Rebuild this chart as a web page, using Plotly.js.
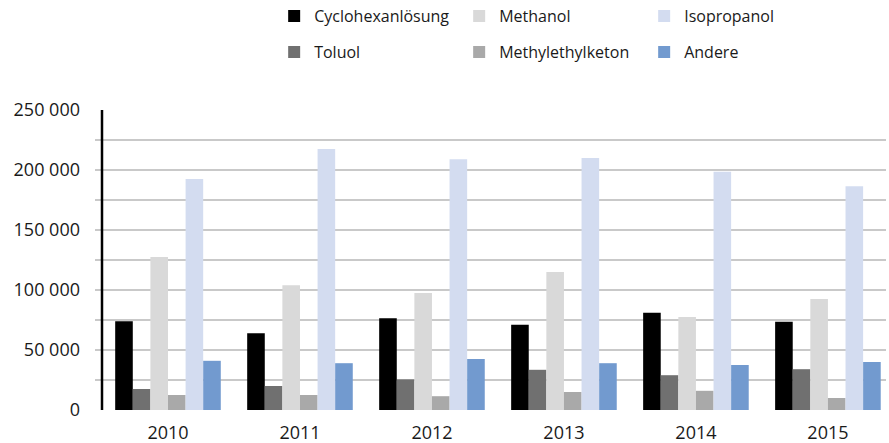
<!DOCTYPE html>
<html>
<head>
<meta charset="utf-8">
<script src="https://cdn.plot.ly/plotly-3.0.1.min.js"></script>
<style>html,body{margin:0;padding:0;background:#fff;}#chart{width:889px;height:443px;}</style>
</head>
<body>
<div id="chart"></div>
<script>
const years = ["2010", "2011", "2012", "2013", "2014", "2015"];
const cyclohexanloesung = [74000, 64000, 76500, 71000, 81000, 73500];
const toluol = [17500, 20000, 25500, 33500, 29000, 34000];
const methanol = [127500, 104000, 97500, 115000, 77500, 92500];
const methylethylketon = [12500, 12500, 11500, 15000, 16000, 10000];
const isopropanol = [192500, 217500, 209000, 210000, 198500, 186500];
const andere = [41000, 39000, 42500, 39000, 37500, 40000];
const yTickVals = [0, 50000, 100000, 150000, 200000, 250000];
const yTickText = ["0", "50 000", "100 000", "150 000", "200 000", "250 000"];

const font = "Open Sans, Noto Sans, sans-serif";
function bar(name, vals, color, legend, rank) {
  return {type: "bar", name: name, x: years, y: vals, marker: {color: color, line: {width: 0}},
          legend: legend, legendrank: rank, hoverinfo: "y+name"};
}
const data = [
  bar("Cyclohexanlösung", cyclohexanloesung, "#000000", "legend", 1),
  bar("Toluol", toluol, "#707070", "legend2", 4),
  bar("Methanol", methanol, "#d9d9d9", "legend", 2),
  bar("Methylethylketon", methylethylketon, "#a9a9a9", "legend2", 5),
  bar("Isopropanol", isopropanol, "#d3dcf0", "legend", 3),
  bar("Andere", andere, "#729acf", "legend2", 6)
];
const legendCommon = {orientation: "h", xanchor: "left", yanchor: "middle", x: 0.2265,
  font: {family: font, size: 16, color: "#1a1a1a"}, entrywidthmode: "pixels", entrywidth: 140,
  bgcolor: "rgba(0,0,0,0)", traceorder: "normal", itemclick: false};
const layout = {
  width: 889, height: 443,
  margin: {l: 95, r: 3, t: 110, b: 33, autoexpand: false},
  paper_bgcolor: "#ffffff", plot_bgcolor: "#ffffff",
  barmode: "group", bargap: 0.2, bargroupgap: 0,
  font: {family: font, size: 16, color: "#1a1a1a"},
  showlegend: true,
  legend: Object.assign({}, legendCommon, {y: 1.313}),
  legend2: Object.assign({}, legendCommon, {y: 1.193}),
  xaxis: {type: "category", range: [-0.553, 5.44], showgrid: false, zeroline: false,
          showline: false, ticks: "", ticklabelstandoff: 10, automargin: false,
          tickfont: {family: font, size: 18, color: "#1a1a1a"}},
  yaxis: {range: [0, 250000], tickvals: yTickVals, ticktext: yTickText, showgrid: true,
          gridcolor: "#c9c9c9", gridwidth: 1.5, zeroline: false, showline: false, ticks: "",
          ticklabelstandoff: 14, automargin: false,
          minor: {dtick: 25000, tick0: 0, showgrid: true, gridcolor: "#c9c9c9", gridwidth: 1.5},
          tickfont: {family: font, size: 18, color: "#1a1a1a"}},
  shapes: [{type: "line", xref: "x", yref: "y", x0: -0.5, x1: -0.5, y0: 0, y1: 250000,
            line: {color: "#000000", width: 2.5}}]
};
Plotly.newPlot("chart", data, layout, {displayModeBar: false, staticPlot: true});
</script>
</body>
</html>
